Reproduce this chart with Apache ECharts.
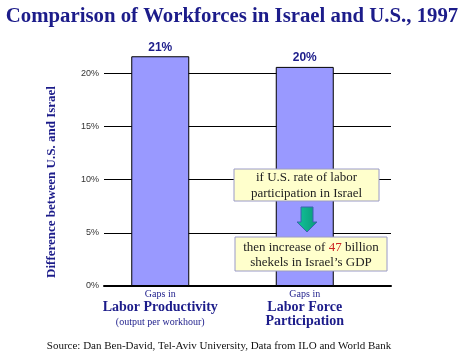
<!DOCTYPE html>
<html>
<head>
<meta charset="utf-8">
<script src="https://cdn.jsdelivr.net/npm/echarts@6/dist/echarts.min.js"></script>
<style>
  html, body { margin: 0; padding: 0; background: #fff; }
  #main { width: 464px; height: 354px; }
</style>
</head>
<body>
<div id="main"></div>
<script>
// data
var categories = ['Labor Productivity', 'Labor Force\nParticipation'];
var catNotes = ['(output per workhour)', ''];
var gapValues = [21.6, 20.6];
var gapLabels = ['21%', '20%'];
var yTicks = [0, 5, 10, 15, 20];

var navy = '#1c1c8a';
var serif = '"Liberation Serif", "Times New Roman", serif';
var sans = '"Liberation Sans", Arial, sans-serif';

function catLabel(name, idx) {
    var lines = name.split('\n');
    var s = '{a|Gaps in}';
    for (var i = 0; i < lines.length; i++) {
        s += '\n{b|' + lines[i] + '}';
    }
    if (catNotes[idx]) s += '\n{c|' + catNotes[idx] + '}';
    return s;
}

var chart = echarts.init(document.getElementById('main'));
var option = {
    backgroundColor: '#fff',
    animation: false,
    title: {
        text: 'Comparison of Workforces in Israel and U.S., 1997',
        left: 'center',
        top: 1,
        textStyle: {
            fontFamily: serif,
            fontSize: 20.8,
            fontWeight: 'bold',
            color: navy,
            textShadowColor: '#9a9a9a',
            textShadowOffsetX: 2,
            textShadowOffsetY: 2,
            textShadowBlur: 0
        }
    },
    grid: [
        {left: 104, right: 73, top: 52, bottom: 68},
        {left: 88, right: 87, top: 52, bottom: 68}
    ],
    xAxis: [
        {
            type: 'category', gridIndex: 0, data: categories,
            axisLine: {lineStyle: {color: '#000', width: 2}},
            axisTick: {show: false},
            axisLabel: {show: false}
        },
        {
            type: 'category', gridIndex: 1, data: categories,
            axisLine: {show: false},
            axisTick: {show: false},
            axisLabel: {
                margin: 3,
                interval: 0,
                formatter: function (v) {
                    return catLabel(v, categories.indexOf(v));
                },
                rich: {
                    a: {fontFamily: serif, fontSize: 10, color: navy, lineHeight: 11, align: 'center'},
                    b: {fontFamily: serif, fontSize: 14, fontWeight: 'bold', color: navy, lineHeight: 14, align: 'center'},
                    c: {fontFamily: serif, fontSize: 10, color: navy, lineHeight: 16, align: 'center'}
                }
            }
        }
    ],
    yAxis: [
        {
            type: 'value', gridIndex: 0, min: 0, max: 22, interval: 5,
            axisLine: {show: false},
            axisTick: {show: false},
            axisLabel: {
                fontFamily: sans, fontSize: 9, color: '#333', margin: 5,
                showMaxLabel: false,
                formatter: function (v) { return yTicks.indexOf(v) >= 0 ? v + '%' : ''; }
            },
            splitLine: {show: true, showMaxLine: false, lineStyle: {color: '#000', width: 1}}
        },
        {
            type: 'value', gridIndex: 1, min: 0, max: 22, interval: 5, show: false,
            splitLine: {show: false}
        }
    ],
    series: [
        {
            type: 'bar',
            xAxisIndex: 1,
            yAxisIndex: 1,
            data: gapValues,
            barWidth: 58,
            itemStyle: {color: '#9999ff', borderColor: '#000', borderWidth: 1},
            label: {
                show: true,
                position: 'top',
                distance: 3,
                fontFamily: sans,
                fontSize: 12,
                fontWeight: 'bold',
                color: navy,
                formatter: function (p) { return gapLabels[p.dataIndex]; }
            },
            z: 3
        }
    ],
    graphic: [
        // y axis title, rotated
        {type: 'text', x: 52, y: 182, rotation: Math.PI / 2, z: 100,
         style: {text: 'Difference between U.S. and Israel', fill: navy,
                 font: 'bold 13px ' + serif, align: 'center', verticalAlign: 'middle'}},
        // call-out boxes
        {type: 'rect', z: 100, shape: {x: 234, y: 169, width: 145, height: 32},
         style: {fill: '#ffffcc', stroke: '#9a9ac8', lineWidth: 1}},
        {type: 'text', z: 101, x: 306.5, y: 186,
         style: {text: 'if U.S. rate of labor\nparticipation in Israel', fill: '#222',
                 font: '13px ' + serif, align: 'center', verticalAlign: 'middle', lineHeight: 16}},
        {type: 'polygon', z: 100,
         shape: {points: [[301, 207], [313, 207], [313, 222], [317, 222], [307, 232], [297, 222], [301, 222]]},
         style: {fill: new echarts.graphic.LinearGradient(0, 0, 1, 0, [
             {offset: 0, color: '#12c49a'}, {offset: 1, color: '#0a9a78'}]),
             stroke: '#3a62b0', lineWidth: 1}},
        {type: 'rect', z: 100, shape: {x: 235, y: 237, width: 152, height: 34},
         style: {fill: '#ffffcc', stroke: '#9a9ac8', lineWidth: 1}},
        {type: 'text', z: 101, x: 311, y: 255,
         style: {text: '{n|then increase of }{r|47}{n| billion}\n{n|shekels in Israel\u2019s GDP}',
                 align: 'center', verticalAlign: 'middle',
                 rich: {
                     n: {fontFamily: serif, fontSize: 13, fill: '#222', lineHeight: 15},
                     r: {fontFamily: serif, fontSize: 13, fill: '#cc2222', lineHeight: 15}
                 }}},
        // source note
        {type: 'text', z: 100, x: 219, y: 346,
         style: {text: 'Source: Dan Ben-David, Tel-Aviv University, Data from ILO and World Bank',
                 fill: '#111', font: '11px ' + serif, align: 'center', verticalAlign: 'middle'}}
    ]
};
chart.setOption(option);
</script>
</body>
</html>
